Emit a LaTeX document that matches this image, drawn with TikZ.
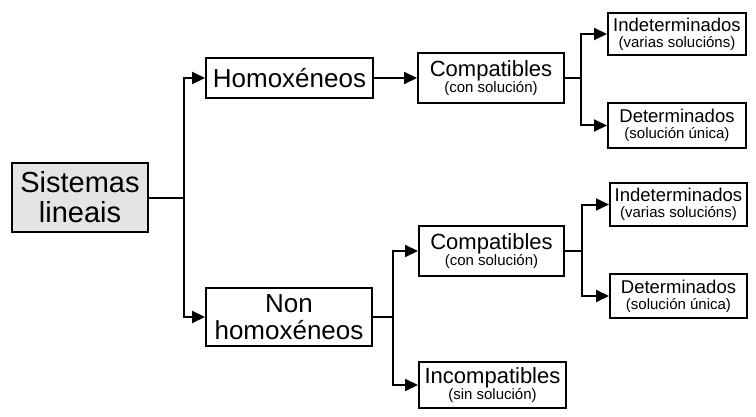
\documentclass[tikz,border=0pt]{standalone}
\usepackage{fontspec}
\setmainfont{Liberation Sans}
\usetikzlibrary{arrows.meta}
\begin{document}
\begin{tikzpicture}[x=1pt,y=1pt,
  box/.style={draw=black,line width=2pt,inner sep=0pt,align=center},
  big/.style={font=\fontsize{22}{16}\selectfont},
  mid/.style={font=\fontsize{18.5}{16}\selectfont},
  link/.style={draw=black,line width=2pt,-{Triangle[length=13pt,width=12pt]}}]
\definecolor{fillColor}{RGB}{255,255,255}
\definecolor{rootColor}{RGB}{228,228,228}
\path[use as bounding box,fill=fillColor] (0,0) rectangle (756,416);

\node[box,fill=rootColor,minimum width=136,minimum height=69,
  font=\fontsize{29}{30}\selectfont] (root) at ( 80.0,218.5) {Sistemas\\lineais};

\node[box,minimum width=167,minimum height=40,
  font=\fontsize{26}{27}\selectfont] (homo) at (289.5,338.0) {Homoxéneos};

\node[box,minimum width=166,minimum height=58,
  font=\fontsize{26}{27}\selectfont] (nonhomo) at (289.0, 99.0) {Non\\homoxéneos};

\node[box,big,minimum width=146,minimum height=50] (compA) at (491.0,338.0)
  {Compatibles\\{\fontsize{15}{16}\selectfont (con solución)}};

\node[box,mid,minimum width=138,minimum height=42] (indetA) at (677.0,382.0)
  {Indeterminados\\{\fontsize{15}{16}\selectfont (varias solucións)}};

\node[box,mid,minimum width=138,minimum height=45] (detA) at (677.0,290.5)
  {Determinados\\{\fontsize{15}{16}\selectfont (solución única)}};

\node[box,big,minimum width=145,minimum height=50] (compB) at (491.5,165.0)
  {Compatibles\\{\fontsize{15}{16}\selectfont (con solución)}};

\node[box,big,minimum width=147,minimum height=46] (incomp) at (492.5, 31.0)
  {Incompatibles\\{\fontsize{15}{16}\selectfont (sin solución)}};

\node[box,mid,minimum width=137,minimum height=43] (indetB) at (678.5,211.5)
  {Indeterminados\\{\fontsize{15}{16}\selectfont (varias solucións)}};

\node[box,mid,minimum width=137,minimum height=44] (detB) at (678.5,120.0)
  {Determinados\\{\fontsize{15}{16}\selectfont (solución única)}};

% connectors
\draw[link] (root.east) -- ++(35,0) |- (homo.west);
\draw[link] (root.east) -- ++(35,0) |- (nonhomo.west);
\draw[link] (homo.east) -- (compA.west);
\draw[link] (nonhomo.east) -- ++(20,0) |- (compB.west);
\draw[link] (nonhomo.east) -- ++(20,0) |- (incomp.west);
\draw[link] (compA.east) -- ++(16,0) |- (indetA.west);
\draw[link] (compA.east) -- ++(16,0) |- (detA.west);
\draw[link] (compB.east) -- ++(17,0) |- (indetB.west);
\draw[link] (compB.east) -- ++(17,0) |- (detB.west);
\end{tikzpicture}
\end{document}
